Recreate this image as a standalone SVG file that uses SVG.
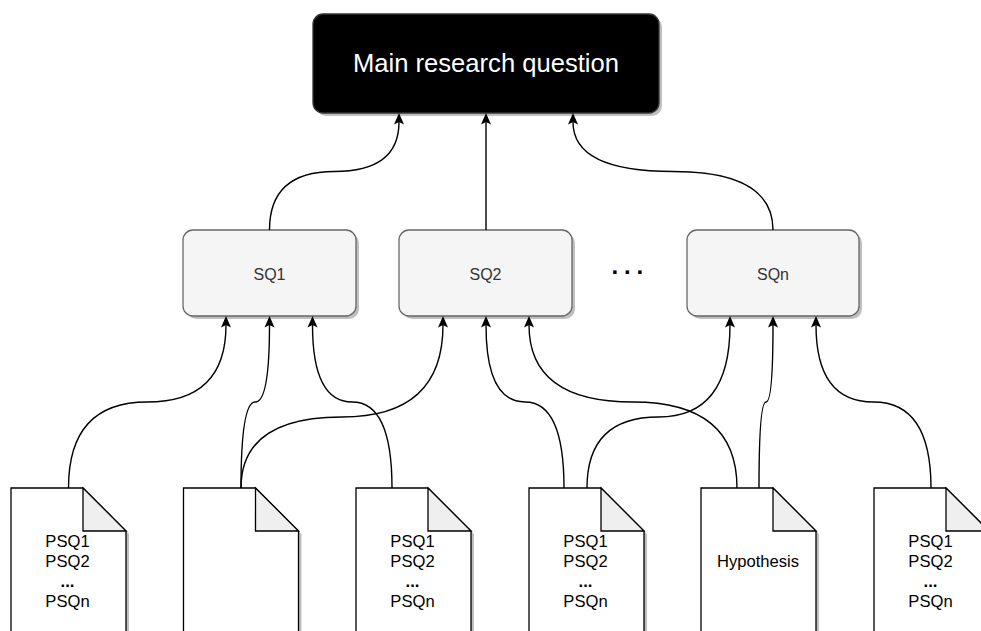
<svg xmlns="http://www.w3.org/2000/svg" width="981" height="631" viewBox="0 0 981 631">
  <style>
    .edge { fill: none; stroke: #000; stroke-width: 1.4; marker-end: url(#arrow); }
    .shadow { fill: #000; opacity: 0.25; }
    .sq { fill: #f5f5f5; stroke: #666; stroke-width: 1.3; }
    .sq-label { font-family: "Liberation Sans", Arial, Helvetica, sans-serif; font-size: 16px; fill: #333; text-anchor: middle; }
    .doc { fill: #fff; stroke: #000; stroke-width: 1.3; stroke-linejoin: miter; }
    .fold { fill: #efefef; stroke: #000; stroke-width: 1.3; }
    .doc-text { font-family: "Liberation Sans", Arial, Helvetica, sans-serif; font-size: 16.6px; fill: #000; text-anchor: middle; }
    .bold { font-weight: bold; }
  </style>
  <defs>
    <marker id="arrow" markerUnits="userSpaceOnUse" markerWidth="13" markerHeight="12" viewBox="0 -6 13 12" refX="2.5" refY="0" orient="auto" overflow="visible">
      <path d="M0,-5 L11.5,0 L0,5 L2.5,0 Z" fill="#000"/>
    </marker>
    <!-- folded-corner document outline, 115 wide, fold 43 -->
    <path id="doc-shape" d="M0,0 H72 L115,43 V160 H0 Z"/>
    <path id="doc-fold" d="M72,0 V43 H115 Z"/>
  </defs>

  <rect width="981" height="631" fill="#fff"/>

  <!-- top-level question -->
  <g id="main">
    <rect class="shadow" x="316" y="17" width="346" height="99" rx="10"/>
    <rect x="313" y="14" width="346" height="99" rx="10" fill="#000" stroke="#333" stroke-width="1.3"/>
    <text x="486" y="72" font-family="'Liberation Sans', Arial, Helvetica, sans-serif" font-size="25.6" fill="#fff" text-anchor="middle">Main research question</text>
  </g>

  <!-- sub-questions -->
  <g id="sq1">
    <rect class="shadow" x="186" y="233" width="173" height="86" rx="10"/>
    <rect class="sq" x="183" y="230" width="173" height="86" rx="10"/>
    <text class="sq-label" x="269.5" y="280">SQ1</text>
  </g>
  <g id="sq2">
    <rect class="shadow" x="402" y="233" width="173" height="86" rx="10"/>
    <rect class="sq" x="399" y="230" width="173" height="86" rx="10"/>
    <text class="sq-label" x="485.5" y="280">SQ2</text>
  </g>
  <g id="ellipsis">
    <text x="611.5" y="273.5" font-family="'Liberation Sans', Arial, Helvetica, sans-serif" font-size="24" font-weight="bold" letter-spacing="5.8" fill="#000">...</text>
  </g>
  <g id="sqn">
    <rect class="shadow" x="690" y="233" width="172" height="86" rx="10"/>
    <rect class="sq" x="687" y="230" width="172" height="86" rx="10"/>
    <text class="sq-label" x="773" y="280">SQn</text>
  </g>

  <!-- source documents -->
  <g id="doc1" transform="translate(11,488)">
    <use href="#doc-shape" class="shadow" x="3" y="3"/>
    <use href="#doc-shape" class="doc"/>
    <use href="#doc-fold" class="fold"/>
    <text class="doc-text" x="56.5" y="59">PSQ1</text>
    <text class="doc-text" x="56.5" y="79">PSQ2</text>
    <text class="doc-text bold" x="56.5" y="99">...</text>
    <text class="doc-text" x="56.5" y="119">PSQn</text>
  </g>
  <g id="doc2" transform="translate(183.5,488)">
    <use href="#doc-shape" class="shadow" x="3" y="3"/>
    <use href="#doc-shape" class="doc"/>
    <use href="#doc-fold" class="fold"/>
  </g>
  <g id="doc3" transform="translate(356,488)">
    <use href="#doc-shape" class="shadow" x="3" y="3"/>
    <use href="#doc-shape" class="doc"/>
    <use href="#doc-fold" class="fold"/>
    <text class="doc-text" x="56.5" y="59">PSQ1</text>
    <text class="doc-text" x="56.5" y="79">PSQ2</text>
    <text class="doc-text bold" x="56.5" y="99">...</text>
    <text class="doc-text" x="56.5" y="119">PSQn</text>
  </g>
  <g id="doc4" transform="translate(529,488)">
    <use href="#doc-shape" class="shadow" x="3" y="3"/>
    <use href="#doc-shape" class="doc"/>
    <use href="#doc-fold" class="fold"/>
    <text class="doc-text" x="56.5" y="59">PSQ1</text>
    <text class="doc-text" x="56.5" y="79">PSQ2</text>
    <text class="doc-text bold" x="56.5" y="99">...</text>
    <text class="doc-text" x="56.5" y="119">PSQn</text>
  </g>
  <g id="doc5" transform="translate(701,488)">
    <use href="#doc-shape" class="shadow" x="3" y="3"/>
    <use href="#doc-shape" class="doc"/>
    <use href="#doc-fold" class="fold"/>
    <text class="doc-text" x="57" y="79">Hypothesis</text>
  </g>
  <g id="doc6" transform="translate(874,488)">
    <use href="#doc-shape" class="shadow" x="3" y="3"/>
    <use href="#doc-shape" class="doc"/>
    <use href="#doc-fold" class="fold"/>
    <text class="doc-text" x="56.5" y="59">PSQ1</text>
    <text class="doc-text" x="56.5" y="79">PSQ2</text>
    <text class="doc-text bold" x="56.5" y="99">...</text>
    <text class="doc-text" x="56.5" y="119">PSQn</text>
  </g>

  <!-- connectors -->
  <g id="connectors">
    <path class="edge" d="M269.5,230 Q269.5,171.5 334.25,171.5 Q399,171.5 399,122"/>
    <path class="edge" d="M486,230 L486,122"/>
    <path class="edge" d="M773,230 Q773,171.5 673,171.5 Q573,171.5 573,122"/>

    <path class="edge" d="M68.5,488 Q68.5,402 147.25,402 Q226,402 226,325"/>
    <path class="edge" d="M241,488 Q241,402 255.25,402 Q269.5,402 269.5,325"/>
    <path class="edge" d="M241,488 Q241,417 342,417 Q443,417 443,325"/>
    <path class="edge" d="M392,488 Q392,402 352.25,402 Q312.5,402 312.5,325"/>
    <path class="edge" d="M564,488 Q564,402 525,402 Q486,402 486,325"/>
    <path class="edge" d="M587,488 Q587,417 658.5,417 Q730,417 730,325"/>
    <path class="edge" d="M737,488 Q737,402 633,402 Q529,402 529,325"/>
    <path class="edge" d="M759,488 Q759,402 766,402 Q773,402 773,325"/>
    <path class="edge" d="M931,488 Q931,402 873.5,402 Q816,402 816,325"/>
  </g>
</svg>
